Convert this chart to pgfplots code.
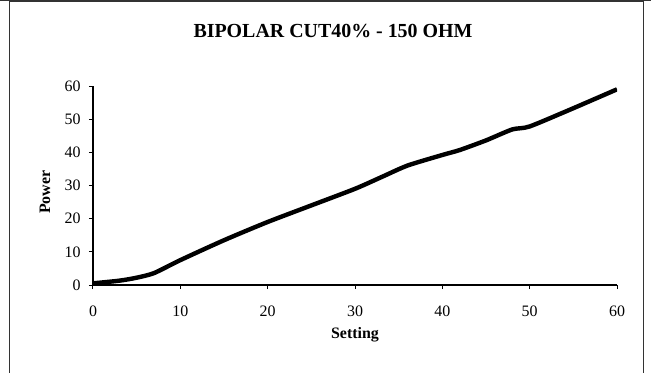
\documentclass[border=0pt]{standalone}
\usepackage{pgfplots}
\pgfplotsset{compat=1.18}
\usepackage{fontspec}
\setmainfont{Liberation Serif}
\begin{document}
\begin{tikzpicture}
\useasboundingbox (-93bp,-88bp) rectangle (558bp,285bp);
% outer chart frame
\draw[line width=1bp, black!80] (-83bp,-90bp) -- (-83bp,283bp) -- (550bp,283bp) -- (550bp,-90bp);
\draw[line width=1bp, black!80] (-93bp,284.5bp) -- (558bp,284.5bp);
\begin{axis}[
  at={(0,0)}, anchor=south west,
  scale only axis, width=524bp, height=199bp,
  xmin=0, xmax=60, ymin=0, ymax=60,
  xtick={0,10,...,60}, ytick={0,10,...,60},
  axis x line*=bottom, axis y line*=left,
  axis line style={line width=1.6bp},
  tick align=outside, major tick length=4bp,
  tick style={line width=1bp, black},
  /pgf/number format/assume math mode=true,
  tick label style={font=\fontsize{16}{18}\selectfont},
  xticklabel style={anchor=north, yshift=-13bp},
  yticklabel style={anchor=east, xshift=-5bp},
  title={BIPOLAR CUT40\% - 150 OHM},
  title style={at={(0.458,1.246)}, anchor=center,
    font=\bfseries\fontsize{20}{22}\selectfont},
  xlabel={Setting}, ylabel={Power},
  label style={font=\bfseries\fontsize{16}{18}\selectfont},
  xlabel style={at={(axis description cs:0.5,-0.251)}, anchor=center},
  ylabel style={at={(axis description cs:-0.0916,0.467)}, anchor=center},
]
\addplot[black, line width=4.4bp, smooth, tension=0.4] coordinates {
  (0,0.5) (3,1.3) (5,2.2) (7,3.6) (10,7.5) (15,13.5) (20,19)
  (25,24) (30,29) (33,32.5) (36,36) (40,39.2) (42,40.7)
  (45,43.6) (48,46.9) (50,47.8) (55,53.3) (60,59)
};
\end{axis}
\end{tikzpicture}
\end{document}
